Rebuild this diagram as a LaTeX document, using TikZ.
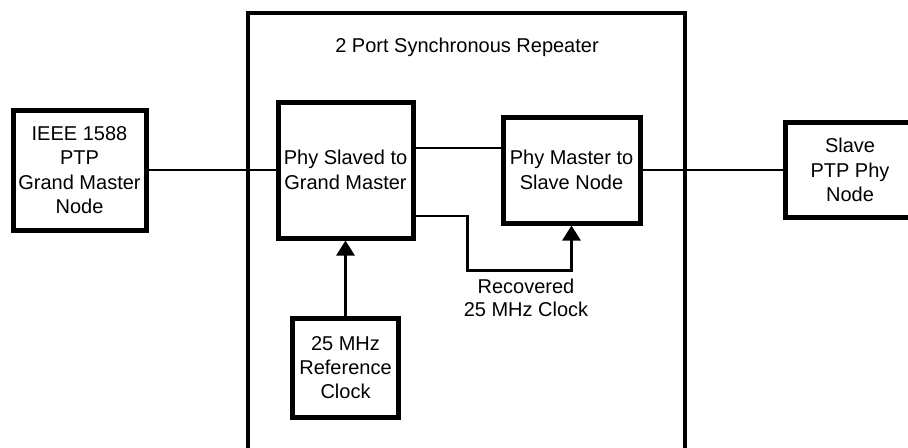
\documentclass[tikz,border=0pt]{standalone}
\usepackage{fontspec}
\setmainfont{Liberation Sans}
\usetikzlibrary{arrows.meta,positioning}
\tikzset{
  unit box/.style={draw=black, line width=2.5pt, align=center, inner sep=0pt,
    font=\fontsize{10}{12.2}\selectfont},
  frame box/.style={draw=black, line width=2.2pt},
  link/.style={draw=black, line width=1.4pt},
  clock flow/.style={-{Triangle[length=7.5pt,width=9pt]}, draw=black, line width=1.4pt},
  note/.style={align=center, font=\fontsize{10}{11.6}\selectfont},
}

\begin{document}
\begin{tikzpicture}[x=0.5pt, y=-0.5pt]
  % Page frame; the repeater frame and the slave node run off the edge.
  \path[use as bounding box, clip] (0,0) rectangle (908,447);

  % Repeater enclosure and its title.
  \node[frame box, minimum width=218.5pt, minimum height=235pt] (repeater) at (466.5,248) {};
  \node[note] (title) at (467,47) {2 Port Synchronous Repeater};

  % Outer nodes.
  \node[unit box, minimum width=66.5pt, minimum height=60pt] (grandmaster) at (79.5,170)
    {IEEE 1588\\PTP\\Grand Master\\Node};
  \node[unit box, minimum width=65pt, minimum height=47.5pt] (slavenode) at (850,170)
    {Slave\\PTP Phy\\Node};

  % Phy blocks inside the repeater.
  \node[unit box, minimum width=67.5pt, minimum height=68pt] (slaved) at (345.5,170)
    {Phy Slaved to\\Grand Master};
  \node[unit box, minimum width=68.5pt, minimum height=53pt] (master) at (571.5,170)
    {Phy Master to\\Slave Node};
  \node[unit box, minimum width=53pt, minimum height=49.5pt, below=37.5pt of slaved] (refclock)
    {25 MHz\\Reference\\Clock};

  \node[note] (recovered) at (526,298) {Recovered\\25 MHz Clock};

  % Links and clock paths.
  \draw[link] (grandmaster.east) -- (slaved.west);
  \draw[link] ([yshift=11pt]slaved.east) -- ([yshift=11pt]slaved.east -| master.west);
  \draw[link] (master.east) -- (slavenode.west);
  \draw[clock flow] (refclock.north) -- (slaved.south);
  \draw[clock flow] ([yshift=-23pt]slaved.east) -- ++(26pt,0)
    |- ([yshift=-22.5pt]master.south) -- (master.south);
\end{tikzpicture}
\end{document}
